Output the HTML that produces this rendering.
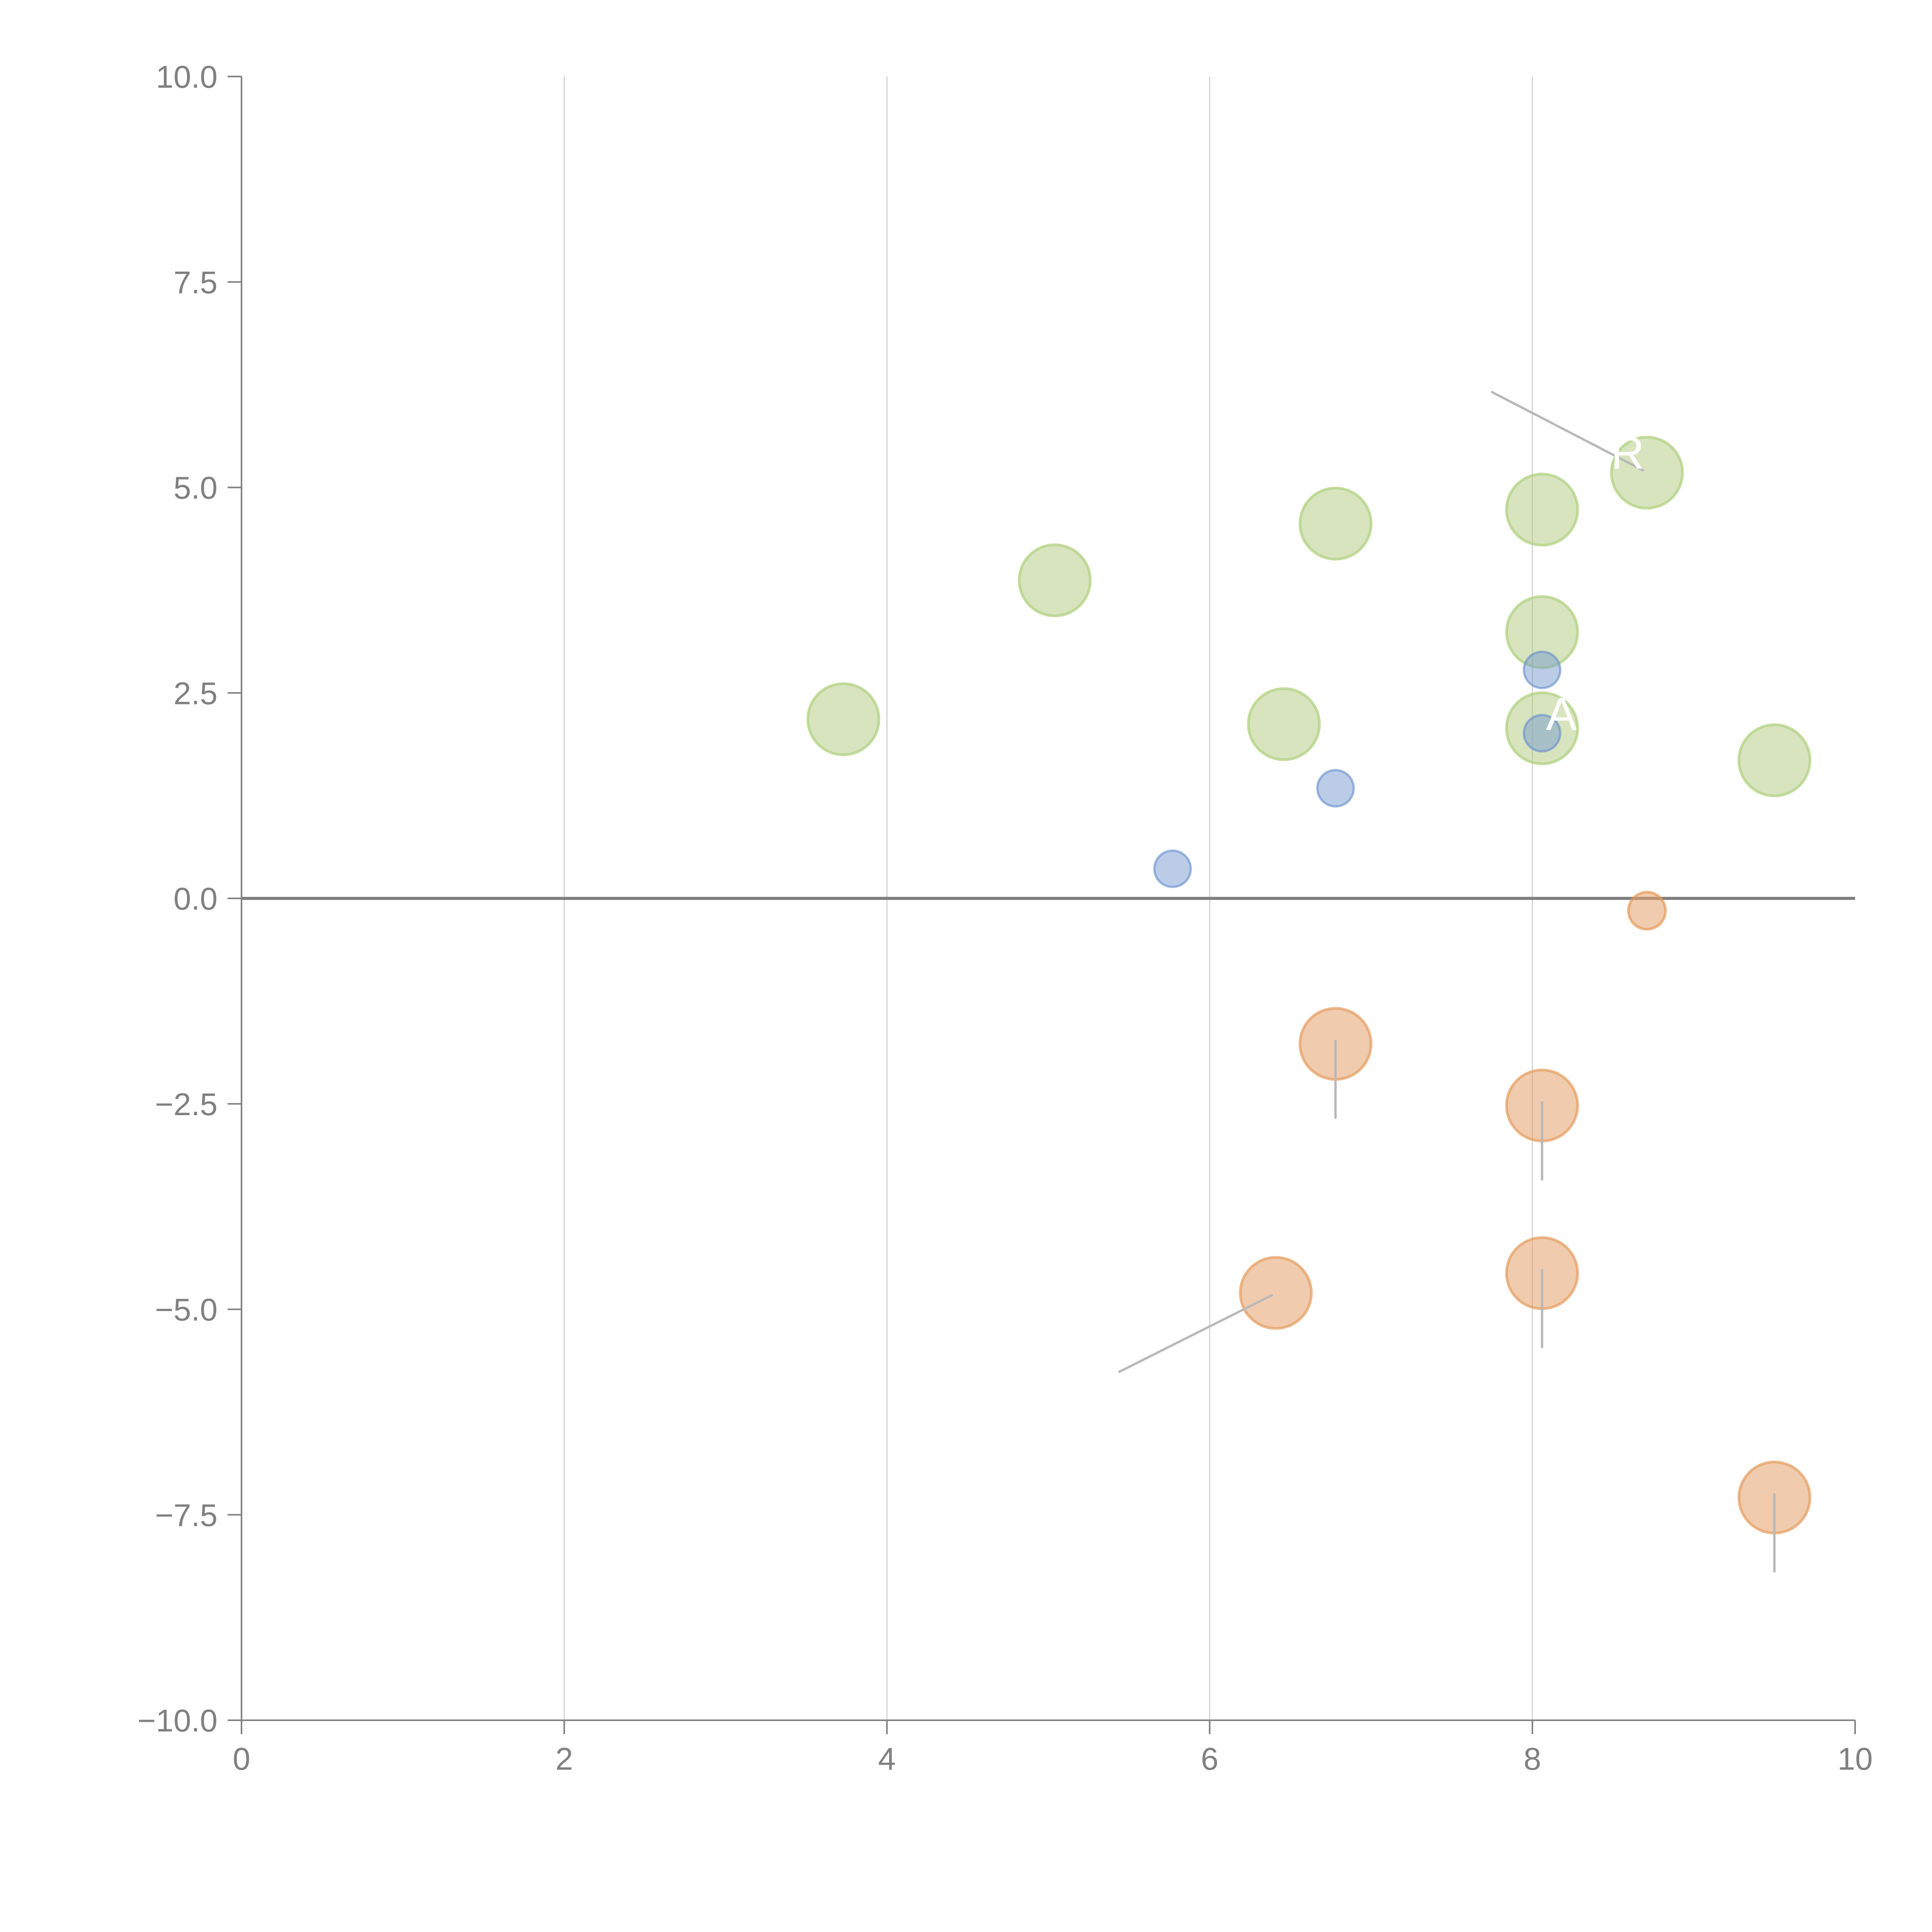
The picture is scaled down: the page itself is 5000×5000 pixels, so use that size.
<!DOCTYPE html>
<html><head><meta charset="utf-8"><style>html,body{margin:0;padding:0;background:#fff}svg{display:block}</style></head>
<body>
<svg id="chart" width="5000" height="5000" viewBox="0 0 5000 5000" xmlns="http://www.w3.org/2000/svg" font-family="Liberation Sans, Arial, sans-serif">
<rect width="5000" height="5000" fill="#fff"/>
<g id="grid"></g><g id="axes"></g><g id="marks"></g><g id="leaders"></g>
</svg>
<script>
const xTicks=[0,2,4,6,8,10];
const yTicks=[-10,-7.5,-5,-2.5,0,2.5,5,7.5,10];
const yTickLabels=["−10.0","−7.5","−5.0","−2.5","0.0","2.5","5.0","7.5","10.0"];
const greenX=[3.73,5.04,6.46,6.78,8.06,8.06,8.06,8.71,9.50];
const greenY=[2.18,3.87,2.12,4.56,4.73,3.24,2.07,5.18,1.68];
const blueX=[5.77,6.78,8.06,8.06];
const blueY=[0.36,1.34,2.78,2.01];
const orangeX=[8.71,6.78,8.06,8.06,6.41,9.50];
const orangeY=[-0.15,-1.77,-2.52,-4.56,-4.80,-7.29];
const orangeSize=[1,2,2,2,2,2];

const NS="http://www.w3.org/2000/svg";
const X0=625,X1=4801,YT=198,YB=4452;
const sx=v=>X0+(v-0)/10*(X1-X0);
const sy=v=>YB-(v+10)/20*(YB-YT);
function mk(tag,attrs,parent){const e=document.createElementNS(NS,tag);for(const k in attrs)e.setAttribute(k,attrs[k]);parent.appendChild(e);return e;}
const grid=document.getElementById('grid'),axes=document.getElementById('axes'),marks=document.getElementById('marks'),leaders=document.getElementById('leaders');

xTicks.forEach(t=>{
  if(t>0&&t<10){const g=mk('line',{x1:sx(t),x2:sx(t),y1:YT,y2:YB,stroke:'#d2d2d2','stroke-width':3},grid);
  
  }
  const tk=mk('line',{x1:sx(t),x2:sx(t),y1:YB,y2:YB+36,stroke:'#808080','stroke-width':4},axes);
  
  
  const tl=mk('text',{x:sx(t),y:YB+128,'text-anchor':'middle','font-size':82,fill:'#808080'},axes);
  tl.textContent=t;
  
  
});
yTicks.forEach((t,i)=>{
  const tk=mk('line',{x1:X0-36,x2:X0,y1:sy(t),y2:sy(t),stroke:'#808080','stroke-width':4},axes);
  
  
  const tl=mk('text',{x:X0-62,y:sy(t)+29,'text-anchor':'end','font-size':82,fill:'#808080'},axes);
  tl.textContent=yTickLabels[i];
  
  
});
const ya=mk('line',{x1:X0,x2:X0,y1:YT,y2:YB,stroke:'#808080','stroke-width':4},axes);


const xa=mk('line',{x1:X0,x2:X1,y1:YB,y2:YB,stroke:'#808080','stroke-width':4},axes);


const zl=mk('line',{x1:X0,x2:X1,y1:sy(0),y2:sy(0),stroke:'#808080','stroke-width':8},axes);



greenX.forEach((x,i)=>{
  const c=mk('circle',{cx:sx(x),cy:sy(greenY[i]),r:92,fill:'rgba(178,204,130,0.52)',stroke:'rgba(178,210,130,0.75)','stroke-width':7},marks);
  
  
});
blueX.forEach((x,i)=>{
  const c=mk('circle',{cx:sx(x),cy:sy(blueY[i]),r:47,fill:'rgba(120,155,205,0.5)',stroke:'rgba(100,140,205,0.6)','stroke-width':6},marks);
  
  
});
orangeX.forEach((x,i)=>{
  const c=mk('circle',{cx:sx(x),cy:sy(orangeY[i]),r:orangeSize[i]==1?48:92,fill:'rgba(228,160,105,0.55)',stroke:'rgba(228,150,85,0.65)','stroke-width':7},marks);
  
  
});
[[1,0,-0.9],[2,0,-0.9],[3,0,-0.9],[5,0,-0.9]].forEach(([i,dx,dy])=>{
  const l=mk('line',{x1:sx(orangeX[i]),y1:sy(orangeY[i])-8,x2:sx(orangeX[i]+dx),y2:sy(orangeY[i]+dy),stroke:'#b8b8b8','stroke-width':6,'stroke-linecap':'round'},leaders);
  
  
});
const l1=mk('line',{x1:sx(orangeX[4])-10,y1:sy(orangeY[4])+6,x2:sx(orangeX[4]-0.97),y2:sy(orangeY[4]-0.96),stroke:'#b8b8b8','stroke-width':6,'stroke-linecap':'round'},leaders);


const l2=mk('line',{x1:sx(greenX[7])-10,y1:sy(greenY[7])-6,x2:sx(greenX[7]-0.96),y2:sy(greenY[7]+0.98),stroke:'#b8b8b8','stroke-width':6,'stroke-linecap':'round'},leaders);


[[7,-0.12,0.05,'R'],[6,0.12,-0.02,'A']].forEach(([i,dx,dy,t])=>{
  const tx=mk('text',{x:sx(greenX[i]+dx),y:sy(greenY[i]+dy),'text-anchor':'middle','font-size':120,fill:'#fff'},leaders);
  tx.textContent=t;
  
  
});
</script>
</body></html>
